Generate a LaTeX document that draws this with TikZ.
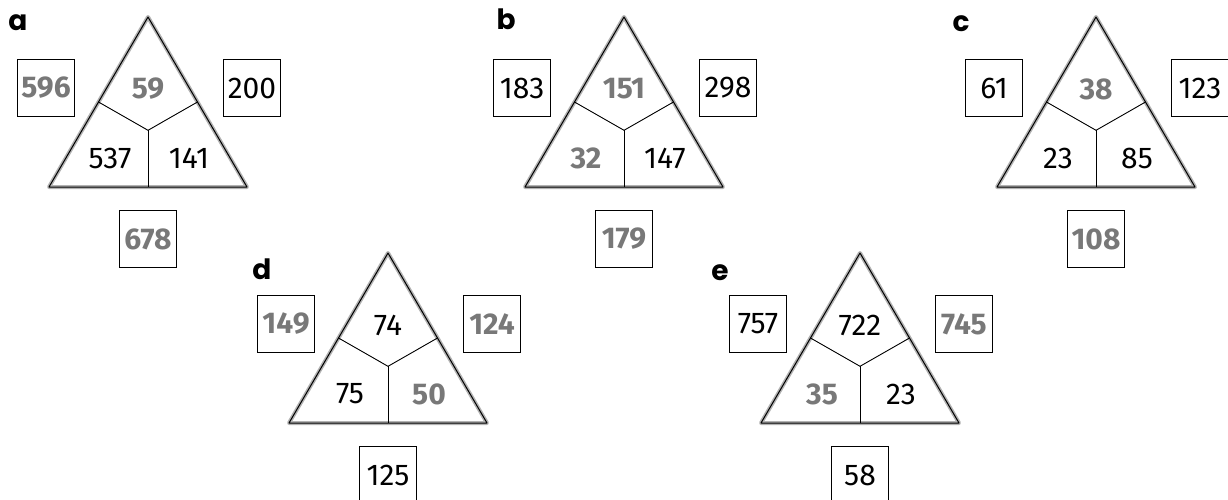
\documentclass[tikz,border=0pt]{standalone}
\usepackage{fontspec}
\setmainfont{Fira Sans}
\newfontfamily\labelfont{Poppins}
\usepackage{tikz}
\definecolor{givengray}{gray}{0.47}
\newcommand{\gv}[1]{\textcolor{givengray}{\bfseries #1}}

\begin{document}
\begin{tikzpicture}[x=1pt, y=-1pt, font=\fontsize{30}{35}\selectfont,
  numbox/.style={draw, line width=1.1pt, minimum size=57pt, inner sep=0pt},
  cellnum/.style={inner sep=0pt},
  partlabel/.style={font=\labelfont\bfseries\fontsize{28}{32}\selectfont, anchor=base, inner sep=0pt}]
  \useasboundingbox (0,0) rectangle (1228,499);
  \foreach \n/\cx/\ty/\lx/\ly/\vt/\vl/\vr/\bxl/\bxr/\bxb in {
      a/148/17/18/30/\gv{59}/537/141/\gv{596}/200/\gv{678},
      b/624/17/506/29/\gv{151}/\gv{32}/147/183/298/\gv{179},
      c/1096/17/961/31/\gv{38}/23/85/61/123/\gv{108},
      d/388/253/262/279/74/75/\gv{50}/\gv{149}/\gv{124}/125,
      e/860/253/720/280/722/\gv{35}/23/757/\gv{745}/58} {
    \coordinate (\n-apex) at (\cx,\ty);
    \coordinate (\n-bl) at (\cx-99,\ty+170);
    \coordinate (\n-br) at (\cx+99,\ty+170);
    \coordinate (\n-mid) at (\cx,\ty+113.3);
    \coordinate (\n-ml) at (\cx-49.5,\ty+85);
    \coordinate (\n-mr) at (\cx+49.5,\ty+85);
    \coordinate (\n-mb) at (\cx,\ty+170);
    \draw[black!30, line width=4pt, line join=round] (\n-apex) -- (\n-bl) -- (\n-br) -- cycle;
    \draw[line width=1pt, line join=round] (\n-apex) -- (\n-bl) -- (\n-br) -- cycle;
    \draw[line width=0.9pt] (\n-ml) -- (\n-mid) -- (\n-mr);
    \draw[line width=0.9pt] (\n-mid) -- (\n-mb);
    \node[cellnum] (\n-top) at (\cx,\ty+72) {\vt};
    \node[cellnum] (\n-left) at (\cx-38,\ty+141) {\vl};
    \node[cellnum] (\n-right) at (\cx+41,\ty+141) {\vr};
    \node[numbox] (\n-boxl) at (\cx-102,\ty+71) {\bxl};
    \node[numbox] (\n-boxr) at (\cx+104,\ty+71) {\bxr};
    \node[numbox] (\n-boxb) at (\cx,\ty+222) {\bxb};
    \node[partlabel] (\n-label) at (\lx,\ly) {\n};
  }
\end{tikzpicture}
\end{document}
